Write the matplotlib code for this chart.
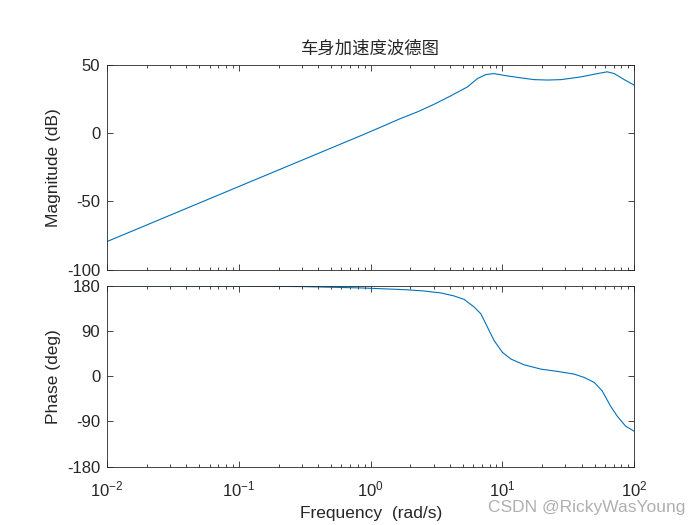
import numpy as np
import matplotlib
matplotlib.use("Agg")
from matplotlib import pyplot as plt
from matplotlib.ticker import LogLocator, NullFormatter

plt.rcParams['font.family'] = ['Liberation Sans', 'Noto Sans CJK SC', 'DejaVu Sans']
plt.rcParams['axes.unicode_minus'] = False

# values
freq_mag = [0.01, 0.1, 0.84, 1.0, 1.69, 2.26, 3.03, 4.05, 5.43, 6.47, 7.48, 8.65,
            10.9, 13.8, 17.4, 22.0, 27.8, 39.4, 52.5, 62.5, 70.6, 84.0, 100.0]
mag_db = [-79.3, -39.1, -2.0, 1.1, 10.6, 15.4, 21.0, 27.1, 33.7, 39.8, 42.7, 43.4,
          41.7, 40.3, 39.0, 38.7, 39.0, 41.0, 43.4, 44.7, 43.4, 39.0, 35.0]

freq_ph = [0.01, 0.1, 0.3, 0.84, 1.79, 2.5, 3.41, 4.3, 5.12, 6.1, 6.86, 7.7, 8.65, 10.0,
           11.6, 14.6, 19.6, 26.2, 35.1, 41.8, 49.8, 57.2, 66.1, 74.3, 86.1, 100.0]
phase_deg = [179.9, 179.3, 178.0, 175.4, 172.0, 169.5, 165.4, 159.4, 152.6, 137.4, 124.0, 97.4, 70.6, 47.4,
             34.0, 22.6, 14.0, 9.4, 4.0, -2.6, -12.6, -29.4, -59.4, -79.4, -99.4, -109.4]

mag_ticks = [-100, -50, 0, 50]
phase_ticks = [-180, -90, 0, 90, 180]

line_color = '#0072BD'
ax_color = '#262626'

fig = plt.figure(figsize=(7, 5.25), dpi=100)
ax1 = fig.add_axes([0.153, 0.486, 0.753, 0.391])
ax2 = fig.add_axes([0.153, 0.111, 0.753, 0.345])

ax1.semilogx(freq_mag, mag_db, color=line_color, lw=0.8)
ax2.semilogx(freq_ph, phase_deg, color=line_color, lw=0.8)

ax1.set_ylim(-100, 50)
ax1.set_yticks(mag_ticks)
ax2.set_ylim(-180, 180)
ax2.set_yticks(phase_ticks)

for ax in (ax1, ax2):
    ax.set_xlim(0.01, 100)
    ax.xaxis.set_major_locator(LogLocator(base=10, numticks=10))
    ax.xaxis.set_minor_locator(LogLocator(base=10, subs=np.arange(2, 10), numticks=20))
    ax.xaxis.set_minor_formatter(NullFormatter())
    ax.tick_params(which='both', direction='in', top=True, right=True,
                   colors=ax_color, labelsize=12, width=0.6)
    ax.tick_params(which='major', length=4, pad=5)
    ax.tick_params(which='minor', length=2.5)
    for s in ax.spines.values():
        s.set_color(ax_color)
        s.set_linewidth(0.6)

ax1.tick_params(axis='x', which='both', labelbottom=False)
ax2.tick_params(axis='x', which='major', pad=9)

ax1.set_ylabel('Magnitude (dB)', fontsize=12.5, color=ax_color, labelpad=4)
ax2.set_ylabel('Phase (deg)', fontsize=12.5, color=ax_color, labelpad=4)
ax2.set_xlabel('Frequency  (rad/s)', fontsize=12.5, color=ax_color, labelpad=5)
ax1.set_title('车身加速度波德图', fontsize=12.5, color=ax_color, pad=8,
              family=['Noto Sans CJK SC', 'DejaVu Sans'], fontweight='light')

fig.text(0.979, 0.034, 'CSDN @RickyWasYoung', ha='right', va='center',
         fontsize=12.5, color='#b0b0b0')

fig.savefig('out.png', dpi=100, facecolor='white')
